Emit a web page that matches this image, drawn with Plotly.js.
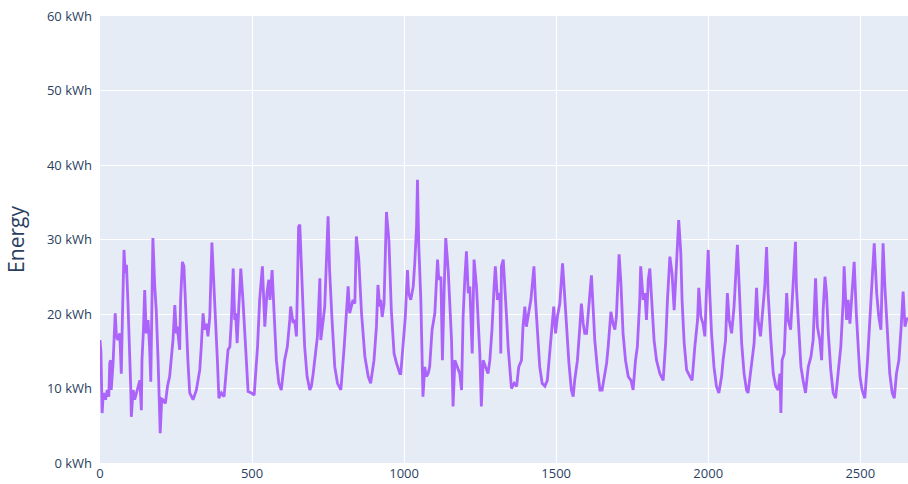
<!DOCTYPE html>
<html>
<head>
<meta charset="utf-8">
<script src="https://cdn.plot.ly/plotly-3.0.1.min.js"></script>
<style>html,body{margin:0;padding:0;background:#fff;}#chart{width:908px;height:484px;}</style>
</head>
<body>
<div id="chart"></div>
<script>
// Sample index (x) and energy in kWh (y)
const sampleIndex = [
0,3,7,11,18,24,29,32,35,37,43,46,50,54,59,65,70,74,79,83,87,92,97,101,103,109,114,120,125,131,136,138,143,147,152,158,163,167,171,174,180,185,191,195,198,203,207,215,222,229,235,240,246,251,254,262,265,271,276,281,289,295,306,317,328,
333,339,344,350,355,361,368,375,380,386,391,399,408,416,421,427,432,438,443,446,451,456,463,470,478,487,498,507,518,525,534,542,549,555,559,566,572,580,588,596,607,616,624,627,635,640,646,653,
657,662,668,673,681,690,695,701,712,715,723,726,734,739,750,755,763,772,781,792,803,810,816,821,827,832,838,843,851,860,871,882,890,901,909,914,920,923,928,934,942,950,958,967,975,986,
989,997,1004,1011,1015,1022,1030,1035,1041,1044,1048,1055,1059,1062,1068,1073,1079,1084,1092,1101,1110,1114,1121,1126,1132,1137,1145,1150,1156,1161,1167,1175,1183,1189,1194,1200,1205,1211,1216,1224,1230,1238,1243,1249,1254,1260,1268,1276,1282,1289,1296,1300,1307,1315,
1318,1320,1326,1331,1337,1342,1348,1353,1362,1370,1377,1386,1391,1397,1402,1408,1417,1421,1427,1432,1439,1446,1454,1463,1471,1479,1487,1492,1498,1504,1512,1521,1526,1534,1542,1550,1556,1561,1570,1578,1583,1589,1594,1600,1607,1616,1622,1627,1636,1644,
1651,1660,1666,1671,1680,1687,1693,1698,1707,1713,1720,1728,1737,1746,1753,1761,1767,1775,1778,1786,1792,1797,1803,1808,1814,1822,1830,1841,1852,1860,1866,1874,1881,1888,1892,1899,1903,1910,1914,1921,1929,1940,1947,1956,
1965,1969,1976,1983,1989,1994,2000,2005,2011,2019,2027,2035,2044,2049,2057,2063,2069,2077,2085,2096,2102,2110,2118,2126,2131,2142,2151,2159,2164,2172,2179,2186,2192,2197,2206,2214,2222,2230,2236,2239,2243,2250,2258,2263,2271,2277,2287,
2290,2298,2305,2312,2320,2329,2338,2345,2353,2359,2367,2373,2378,2384,2389,2395,2403,2411,2419,2427,2436,2444,2447,2455,2460,2466,2474,2480,2487,2493,2499,2506,2515,2524,2532,2539,2546,2554,2561,2568,2575,2581,2590,2597,2605,2612,2619,2627,2634,2641,2647,2652,2657
];
const energyKWh = [
16.5,15.0,6.7,9.4,8.5,9.8,8.9,13.4,13.8,9.8,13.4,16.5,20.1,17.0,16.5,17.4,12.0,20.0,28.6,25.5,26.6,21.4,16.1,10.3,6.2,9.8,8.5,9.5,10.3,11.1,7.1,13.8,18.0,23.2,17.4,19.2,15.6,10.9,22.0,30.2,23.7,20.5,13.8,8.0,4.0,8.6,8.5,8.0,10.3,11.6,13.8,16.5,21.2,17.4,18.3,15.2,21.9,27.0,26.4,20.5,13.8,9.4,8.5,9.8,12.5,
15.6,20.1,17.9,18.7,17.0,19.6,29.6,23.7,20.5,13.8,8.7,9.4,8.9,12.5,15.2,15.6,19.2,26.1,19.2,20.1,16.1,20.5,26.1,21.9,16.1,9.6,9.4,9.1,15.6,21.9,26.4,18.3,22.8,24.6,21.9,25.9,20.5,13.8,10.7,9.8,13.8,15.6,19.2,21.0,18.8,19.2,17.0,31.7,
32.0,27.7,20.5,15.6,11.6,9.8,10.3,12.0,15.6,17.0,24.8,16.5,19.2,21.0,33.1,25.9,19.2,12.9,10.7,9.8,15.6,19.6,23.7,20.1,21.0,21.9,21.4,30.4,27.3,20.1,14.3,11.6,10.7,13.8,18.3,23.9,21.0,21.9,19.6,21.4,33.7,29.9,20.5,14.7,13.4,12.0,
12.0,16.5,19.6,25.9,22.8,21.9,23.7,26.8,31.7,38.0,29.5,21.9,15.6,8.9,12.9,11.6,12.0,12.9,17.9,20.1,27.3,24.6,25.0,13.8,23.7,30.2,25.9,20.5,16.5,7.6,13.8,12.9,12.0,9.8,19.6,25.0,28.4,22.8,23.7,14.7,27.3,23.7,19.6,14.7,7.6,13.8,12.9,12.0,13.8,17.9,23.7,26.4,21.9,22.8,
14.7,26.4,27.3,22.8,19.6,15.6,12.0,10.0,10.7,10.3,12.9,13.8,18.3,21.0,18.3,19.6,21.9,23.7,26.4,21.9,17.0,12.9,10.7,10.3,11.1,14.7,18.3,21.0,17.4,19.6,21.4,26.8,23.7,18.3,13.4,9.8,8.9,11.1,13.8,18.3,21.4,18.7,17.4,17.4,21.4,25.2,20.5,16.5,12.5,9.8,
9.8,12.0,13.4,15.6,20.3,18.7,17.9,19.6,28.0,24.1,17.4,13.8,11.6,11.1,9.8,13.8,15.6,21.9,26.4,21.9,22.8,19.2,24.6,26.1,21.9,16.5,13.8,12.0,11.1,16.1,21.9,27.7,25.5,20.5,23.7,29.0,32.6,28.1,21.9,16.1,12.5,11.6,11.1,15.6,
19.2,23.5,19.6,18.7,17.0,22.8,28.6,22.8,17.4,12.9,10.3,9.4,11.6,13.8,16.5,22.8,19.2,17.4,21.0,29.3,22.8,16.1,12.0,9.8,9.4,12.9,16.1,23.5,19.2,17.0,20.1,23.7,29.0,22.8,16.5,12.0,10.3,9.8,12.0,6.7,13.8,14.7,22.8,19.2,17.9,21.9,29.7,
23.7,17.4,12.9,11.1,9.4,12.9,14.3,16.5,24.8,18.3,16.5,13.8,20.5,25.0,22.8,17.4,12.5,9.4,8.7,12.0,15.6,21.9,26.4,19.2,21.9,18.7,22.8,27.0,20.1,15.6,11.6,9.8,8.7,13.8,19.2,23.7,29.5,22.8,19.6,17.9,29.5,23.7,16.5,12.0,9.4,8.7,12.0,13.8,17.9,23.0,18.3,19.2,19.5
];
const yTickValues = [0,10,20,30,40,50,60];
const yTickLabels = ["0 kWh","10 kWh","20 kWh","30 kWh","40 kWh","50 kWh","60 kWh"];
const xTickValues = [0,500,1000,1500,2000,2500];

const trace = {
  x: sampleIndex,
  y: energyKWh,
  type: 'scatter',
  mode: 'lines',
  line: {color: '#ab63fa', width: 2.8},
  hoverinfo: 'skip'
};

const layout = {
  width: 908,
  height: 484,
  margin: {l: 100, r: 0, t: 16, b: 21, pad: 0},
  paper_bgcolor: '#ffffff',
  plot_bgcolor: '#E5ECF6',
  font: {family: '"Open Sans", verdana, arial, sans-serif', color: '#2a3f5f', size: 13},
  showlegend: false,
  xaxis: {
    range: [0, 2657],
    tickvals: xTickValues,
    ticktext: xTickValues.map(String),
    gridcolor: '#ffffff',
    gridwidth: 1,
    zeroline: false,
    showline: false,
    ticks: '',
    ticklabelstandoff: 1,
    tickfont: {size: 13, color: '#2a3f5f'}
  },
  yaxis: {
    range: [0, 60],
    tickvals: yTickValues,
    ticktext: yTickLabels,
    gridcolor: '#ffffff',
    gridwidth: 1,
    zeroline: false,
    showline: false,
    ticks: '',
    ticklabelstandoff: 7,
    tickfont: {size: 13, color: '#2a3f5f'},
    title: {text: 'Energy', font: {size: 21, color: '#2a3f5f'}, standoff: 16}
  }
};

Plotly.newPlot('chart', [trace], layout, {displayModeBar: false, staticPlot: true});
</script>
</body>
</html>
